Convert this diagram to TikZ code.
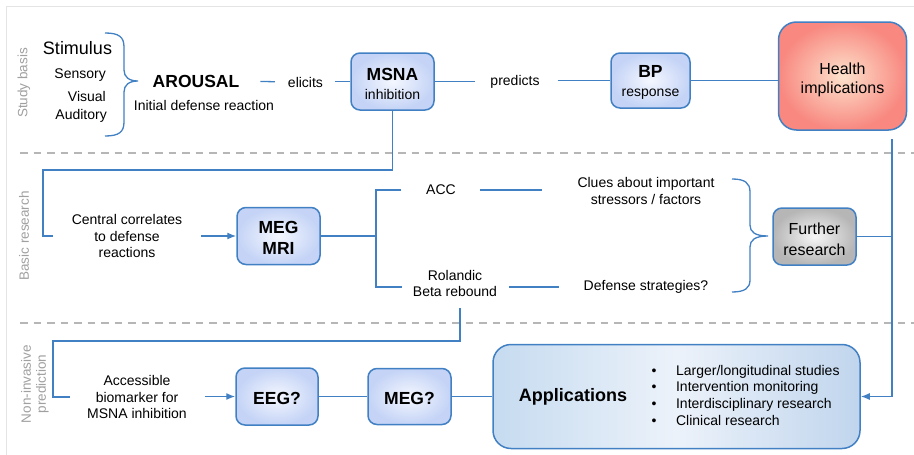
\documentclass[tikz,border=0pt]{standalone}
\usepackage{fontspec}
\setmainfont{Liberation Sans}
\usetikzlibrary{arrows.meta,calc}

\definecolor{linkblue}{RGB}{66,128,196}
\definecolor{boxin}{RGB}{244,247,254}
\definecolor{boxout}{RGB}{196,211,246}
\definecolor{hin}{RGB}{253,226,204}
\definecolor{hout}{RGB}{248,136,128}
\definecolor{gin}{RGB}{246,246,246}
\definecolor{gout}{RGB}{182,182,182}
\definecolor{appl}{RGB}{198,219,240}
\definecolor{appm}{RGB}{236,242,250}
\definecolor{appr}{RGB}{192,213,237}
\definecolor{sepgray}{RGB}{182,182,182}
\definecolor{framegray}{RGB}{228,228,228}
\definecolor{sidegray}{RGB}{160,160,160}

\begin{document}
\begin{tikzpicture}[x=1pt,y=-1pt,
  conn/.style={draw=linkblue, line width=1.3pt},
  arr/.style={conn, -{Latex[length=9pt,width=7pt]}},
  box/.style={draw=linkblue, line width=1.5pt, rounded corners=9pt,
    inner color=boxin, outer color=boxout, inner sep=0pt,
    minimum width=83pt, minimum height=57pt},
  txt/.style={inner sep=0pt, align=center, font=\fontsize{14}{16.5}\selectfont},
  boxtxt/.style={txt, font=\fontsize{14}{19}\selectfont},
  boldtxt/.style={txt, font=\bfseries\fontsize{17.5}{21}\selectfont},
  side/.style={inner sep=0pt, align=center, rotate=90, text=sidegray,
    font=\fontsize{13.5}{15}\selectfont},
  sep/.style={draw=sepgray, line width=2.5pt, dash pattern=on 7.5pt off 6pt}
]
\useasboundingbox (0,0) rectangle (914,455);
\fill[white] (0,0) rectangle (914,455);

% outer frame and section separators
\draw[framegray, line width=1pt] (6.5,455) -- (6.5,6) -- (914,6);
\draw[sep] (20,153) -- (914,153);
\draw[sep] (20,323) -- (914,323);

% section labels
\node[side] (lab1) at (24,83) {Study basis};
\node[side] (lab2) at (24,236) {Basic research};
\node[side] (lab3) at (35,384) {Non-invasive\\prediction};

% ---- study basis row
\node[txt, font=\fontsize{18}{20}\selectfont] (stim) at (77.5,48) {Stimulus};
\node[txt, anchor=east] (sens) at (106,75) {Sensory};
\node[txt, anchor=east] (vis) at (106,96) {Visual};
\node[txt, anchor=east] (aud) at (107,116) {Auditory};
\draw[conn] (105,33) .. controls (119,33) and (124,37) .. (124,47) -- (124,70)
  .. controls (124,77) and (129,81) .. (138,81)
  .. controls (129,81) and (124,85) .. (124,92) -- (124,122)
  .. controls (124,132) and (119,136) .. (105,136);

\node[txt, font=\bfseries\fontsize{17.5}{19}\selectfont] (arousal) at (196,81) {AROUSAL};
\node[txt] (initdef) at (204,105) {Initial defense reaction};
\node[txt] (elicits) at (305.5,82) {elicits};
\node[box] (msna) at (392.5,81.5) {};
\node[boxtxt] (msnat) at (392.5,83.5)
  {{\bfseries\fontsize{17.5}{19}\selectfont MSNA}\\inhibition};
\node[txt] (predicts) at (515,82) {predicts};
\node[box, minimum width=79pt, minimum height=55pt] (bp) at (650.5,80.5) {};
\node[boxtxt] (bpt) at (650.5,82.5)
  {{\bfseries\fontsize{17.5}{19}\selectfont BP}\\response};
\node[box, minimum width=128pt, minimum height=108pt, rounded corners=18pt,
  inner color=hin, outer color=hout] (health) at (842.5,76) {};
\node[txt, font=\fontsize{16}{19}\selectfont] (healtht) at (842.5,80) {Health\\implications};

\draw[conn, shorten <=21pt, shorten >=13pt] (arousal.east) -- (elicits.west);
\draw[conn, shorten <=12pt] (elicits.east |- msna.west) -- (msna.west);
\draw[conn, shorten >=15pt] (msna.east) -- (msna.east -| predicts.west);
\draw[conn, shorten <=18pt] (predicts.east |- bp.west) -- (bp.west);
\draw[conn] (bp.east) -- (bp.east -| health.west);

% ---- basic research row
\node[txt] (central) at (127,236) {Central correlates\\to defense\\reactions};
\node[box] (meg) at (278.5,236) {};
\node[boldtxt] (megt) at (278.5,238) {MEG\\MRI};
\node[txt] (acc) at (441,190) {ACC};
\node[txt] (rol) at (455,283.5) {Rolandic\\Beta rebound};
\node[txt] (clues) at (646,191) {Clues about important\\stressors / factors};
\node[txt] (defense) at (646,287) {Defense strategies?};
\node[box, inner color=gin, outer color=gout] (further) at (814.5,236.5) {};
\node[txt, font=\fontsize{16}{21}\selectfont] (furthert) at (814.5,239.5) {Further\\research};

\coordinate (bend1) at (43,170);
\draw[conn, shorten >=19pt] (msna.south) |- (bend1) |- (central.west);
\draw[arr, shorten <=19pt] (central.east) -- (meg.west);
\coordinate (fork) at (376,236);
\draw[conn] (meg.east) -- (fork);
\draw[conn, shorten <=25pt] (acc.west) -| (fork);
\draw[conn, shorten >=11pt] (fork) |- ([yshift=-3.5pt]rol.west);
\draw[conn, shorten <=24pt, shorten >=35pt] (acc.east) -- (clues.west |- acc.east);
\draw[conn, shorten <=12pt, shorten >=25pt] ([yshift=-3.5pt]rol.east) -- (defense.west);
\draw[conn] (732,179) .. controls (745,179) and (750,183) .. (750,192) -- (750,225)
  .. controls (750,232) and (755,236) .. (768,236)
  .. controls (755,236) and (750,240) .. (750,247) -- (750,280)
  .. controls (750,288) and (745,292) .. (732,292);

% ---- non-invasive prediction row
\node[txt] (access) at (137,397) {Accessible\\biomarker for\\MSNA inhibition};
\node[box, minimum width=82pt] (eeg) at (277,396.5) {};
\node[boldtxt] (eegt) at (277,398) {EEG?};
\node[box, minimum height=56pt] (megq) at (409.5,396.5) {};
\node[boldtxt] (megqt) at (409.5,398) {MEG?};
\node[draw=linkblue, line width=1.5pt, rounded corners=18pt, minimum width=367pt,
  minimum height=104pt, inner sep=0pt, left color=appl, right color=appr,
  middle color=appm] (apps) at (676.5,396.5) {};
\node[txt, font=\bfseries\fontsize{18}{20}\selectfont] (appt) at (573,397) {Applications};
\node[inner sep=0pt, anchor=west, font=\fontsize{14}{16.7}\selectfont] (list) at (651.5,397)
  {\begin{tabular}{@{}l@{\hspace{19.5pt}}l@{}}
   • & Larger/longitudinal studies\\
   • & Intervention monitoring\\
   • & Interdisciplinary research\\
   • & Clinical research
   \end{tabular}};

\coordinate (bend2) at (53,341);
\draw[conn, shorten <=11pt, shorten >=17pt] ([xshift=5pt]rol.south) |- (bend2) |- (access.west);
\draw[arr, shorten <=18pt] (access.east |- eeg.west) -- (eeg.west);
\draw[conn] (eeg.east) -- (megq.west);
\draw[conn] (megq.east) -- (megq.east -| apps.west);

% feedback from health implications and further research
\coordinate (vtop) at ([xshift=49.5pt,yshift=-8pt]health.south);
\draw[arr] (vtop) |- (apps.east);
\draw[conn] (further.east) -- (further.east -| vtop);
\end{tikzpicture}
\end{document}
